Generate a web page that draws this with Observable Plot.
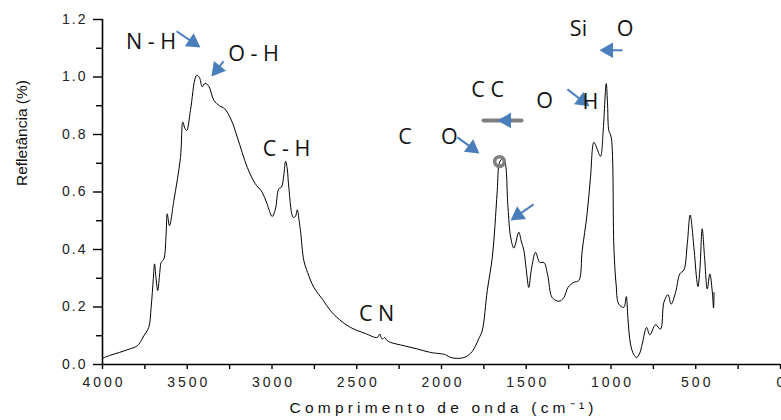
<!DOCTYPE html>
<html><head><meta charset="utf-8">
<script src="https://cdn.jsdelivr.net/npm/d3@7"></script>
<script src="https://cdn.jsdelivr.net/npm/@observablehq/plot@0.6"></script>
<style>
body{margin:0;background:#fff}
#chart svg{overflow:visible}
</style>
</head><body><div id="chart"></div>
<script>
// spectrum (wavenumber cm^-1, reflectance %)
const wavenumber = [4000,3950,3900,3850,3795,3770,3756,3727,3713,3700,3693,3684,3674,3662,3654,3638,3625,3618,3605,3579,3540,3526,3513,3503,3481,3451,3441,3426,3412,3395,3373,3343,3310,3280,3240,3205,3146,3100,3058,3030,2999,2980,2960,2944,2930,2920,2910,2901,2875,2862,2851,2840,2832,2812,2790,2753,2700,2655,2600,2537,2450,2379,2364,2357,2350,2336,2320,2301,2220,2143,2065,1976,1960,1927,1868,1830,1809,1780,1760,1730,1700,1685,1671,1657,1640,1628,1608,1592,1573,1544,1530,1514,1500,1485,1470,1445,1420,1396,1373,1347,1307,1278,1254,1219,1190,1170,1141,1121,1101,1082,1062,1046,1035,1028,1020,1013,999,983,970,954,924,910,900,885,866,849,830,816,790,771,737,708,688,664,645,619,594,570,550,533,511,495,487,476,462,448,432,417,403,395,392];
const reflectance = [0.022,0.033,0.042,0.052,0.065,0.085,0.100,0.129,0.199,0.30,0.35,0.30,0.257,0.32,0.355,0.367,0.45,0.524,0.483,0.57,0.72,0.843,0.82,0.814,0.884,1.0,1.006,0.995,0.966,0.978,0.968,0.919,0.90,0.89,0.85,0.791,0.686,0.63,0.599,0.56,0.515,0.54,0.611,0.617,0.66,0.707,0.68,0.617,0.512,0.515,0.538,0.50,0.466,0.361,0.32,0.268,0.225,0.187,0.155,0.129,0.108,0.094,0.106,0.095,0.088,0.094,0.083,0.077,0.065,0.054,0.042,0.034,0.028,0.022,0.024,0.038,0.054,0.09,0.117,0.257,0.373,0.48,0.605,0.704,0.715,0.71,0.547,0.443,0.405,0.46,0.43,0.396,0.33,0.268,0.33,0.39,0.355,0.355,0.309,0.233,0.22,0.233,0.268,0.286,0.292,0.396,0.524,0.651,0.773,0.75,0.724,0.814,0.93,0.977,0.90,0.814,0.791,0.408,0.28,0.21,0.199,0.236,0.16,0.071,0.035,0.024,0.04,0.071,0.129,0.103,0.138,0.123,0.216,0.243,0.21,0.251,0.315,0.329,0.42,0.52,0.408,0.30,0.271,0.326,0.472,0.373,0.263,0.315,0.257,0.196,0.25];

// axes
const xMajorTicks = [4000,3500,3000,2500,2000,1500,1000,500,0];
const xMinorTicks = [3750,3250,2750,2250,1750,1250,750,250];
const yMajorTicks = [0,0.2,0.4,0.6,0.8,1.0,1.2];
const yMinorTicks = [0.1,0.3,0.5,0.7,0.9,1.1];
const xTitle = "Comprimento de onda (cm⁻¹)";
const yTitle = "Refletância (%)";

// band labels
const labelText = ["N - H","O - H","C - H","C","O","C C","O","H","Si","O","C N"];
const labelWn   = [3714,3109,2914,2215,1953,1728,1392,1121,1192,917,2383];
const labelY    = [1.121,1.079,0.748,0.79,0.79,0.954,0.915,0.912,1.166,1.166,0.177];

// arrows: tail (x1,y1) -> tip (x2,y2)
const arrowX1 = [3563,3286,1906,1581,1257,932,1457];
const arrowY1 = [1.159,1.054,0.79,0.849,0.957,1.093,0.557];
const arrowX2 = [3422,3357,1776,1670,1127,1068,1593];
const arrowY2 = [1.103,1.002,0.734,0.849,0.898,1.093,0.501];

// grey bond bar and ring marker
const barX = [1752,1528];
const barY = 0.849;
const ringX = 1658;
const ringY = 0.706;

const W = 781, H = 420, mL = 102, mR = 1, mT = 19, mB = 56;
const kx = (W - mL - mR) / 4000;
const ky = (H - mT - mB) / 1.2;
const headR = 5.8;
const headOff = 2 * Math.sqrt(Math.PI * headR * headR / (Math.sqrt(3) * 3));

const spectrum = wavenumber.map((w, i) => ({w, r: reflectance[i]})).sort((a, b) => a.w - b.w);
const labels = labelText.map((t, i) => ({t, x: labelWn[i], y: labelY[i]}));
const arrows = arrowX1.map((x1, i) => {
  const y1 = arrowY1[i], x2 = arrowX2[i], y2 = arrowY2[i];
  const dxp = -(x2 - x1) * kx, dyp = -(y2 - y1) * ky;
  const len = Math.hypot(dxp, dyp);
  const ux = dxp / len, uy = dyp / len;
  const cx = x2 + ux * headOff / kx;
  const cy = y2 + uy * headOff / ky;
  return {x1, y1, x2, y2, cx, cy, angle: Math.atan2(dxp, -dyp) * 180 / Math.PI};
});

const blue = "#4a7ebb";
const font = "Liberation Sans, Arial, sans-serif";
const fmtY = d3.format(".1f");
const xLabelSet = new Set(xMajorTicks.map(String));
const yLabelSet = new Set(yMajorTicks.map(fmtY));

const chart = Plot.plot({
  width: W, height: H,
  marginLeft: mL, marginRight: mR, marginTop: mT, marginBottom: mB,
  style: {fontFamily: font, background: "#fff", color: "#222"},
  x: {domain: [4000, 0], range: [mL, W - mR], label: null},
  y: {domain: [0, 1.2], label: null},
  marks: [
    Plot.axisX({ticks: xMinorTicks, tickSize: 5, text: null, strokeWidth: 1.4, stroke: "#000"}),
    Plot.axisX({ticks: xMajorTicks, tickSize: 5, text: null, strokeWidth: 1.4, stroke: "#000"}),
    Plot.axisY({ticks: yMinorTicks, tickSize: 6, text: null, strokeWidth: 1.4, stroke: "#000"}),
    Plot.axisY({ticks: yMajorTicks, tickSize: 9, text: null, strokeWidth: 1.4, stroke: "#000"}),
    Plot.text(xMajorTicks, {x: d => d, y: () => 0, text: d => String(d), dy: 18, fontSize: 14, fill: "#222"}),
    Plot.text(yMajorTicks, {x: () => 4000, y: d => d, text: d => fmtY(d), dx: -17, textAnchor: "end", fontSize: 14, fill: "#222"}),
    Plot.ruleY([0], {stroke: "#000", strokeWidth: 1.6}),
    Plot.ruleX([4000], {y1: 0, y2: 1.2, stroke: "#000", strokeWidth: 1.6}),
    Plot.line(spectrum, {x: "w", y: "r", stroke: "#000", strokeWidth: 1, curve: "catmull-rom"}),
    Plot.text([xTitle], {frameAnchor: "bottom", dy: 48, fontSize: 15.5, fill: "#111"}),
    Plot.text([yTitle], {frameAnchor: "left", dx: -80, dy: -6, rotate: -90, fontSize: 15.5, fill: "#111"}),
    Plot.link([0], {x1: () => barX[0], x2: () => barX[1], y1: () => barY, y2: () => barY, stroke: "#7f7f7f", strokeWidth: 4, strokeLinecap: "round"}),
    Plot.dot([0], {x: () => ringX, y: () => ringY, r: 4.8, stroke: "#7f7f7f", strokeWidth: 3.6, fill: "none"}),
    Plot.link(arrows, {x1: "x1", y1: "y1", x2: "cx", y2: "cy", stroke: blue, strokeWidth: 2}),
    Plot.dot(arrows, {x: "cx", y: "cy", symbol: "triangle", r: headR, rotate: "angle", fill: blue, stroke: "none"}),
    Plot.text(labels, {x: "x", y: "y", text: "t", fontFamily: "Open Sans, sans-serif", fontSize: 21.5, fill: "#111"})
  ]
});
document.getElementById("chart").appendChild(chart);

// widen the letter spacing of the axis title (as in the reference)
function spreadTitle(t, s) {
  const n = t.textContent.length;
  const L0 = t.getComputedTextLength();
  t.style.letterSpacing = s + "px";
  const L1 = t.getComputedTextLength();
  if (L1 > L0 + s) {
    t.setAttribute("dx", s / 2);
  } else {
    t.style.letterSpacing = "";
    t.setAttribute("textLength", L0 + (n - 1) * s);
    t.setAttribute("lengthAdjust", "spacing");
  }
}
// tick labels: per-glyph offsets
function spreadTick(t, s) {
  const n = t.textContent.length;
  if (n < 2) return;
  t.setAttribute("dx", [0].concat(Array(n - 1).fill(s)).join(" "));
}
chart.querySelectorAll("text").forEach(t => {
  const c = t.textContent;
  if (c === xTitle) spreadTitle(t, 4.2);
  else if (xLabelSet.has(c)) spreadTick(t, 3);
  else if (yLabelSet.has(c)) spreadTick(t, 2);
});
</script>
</body></html>
